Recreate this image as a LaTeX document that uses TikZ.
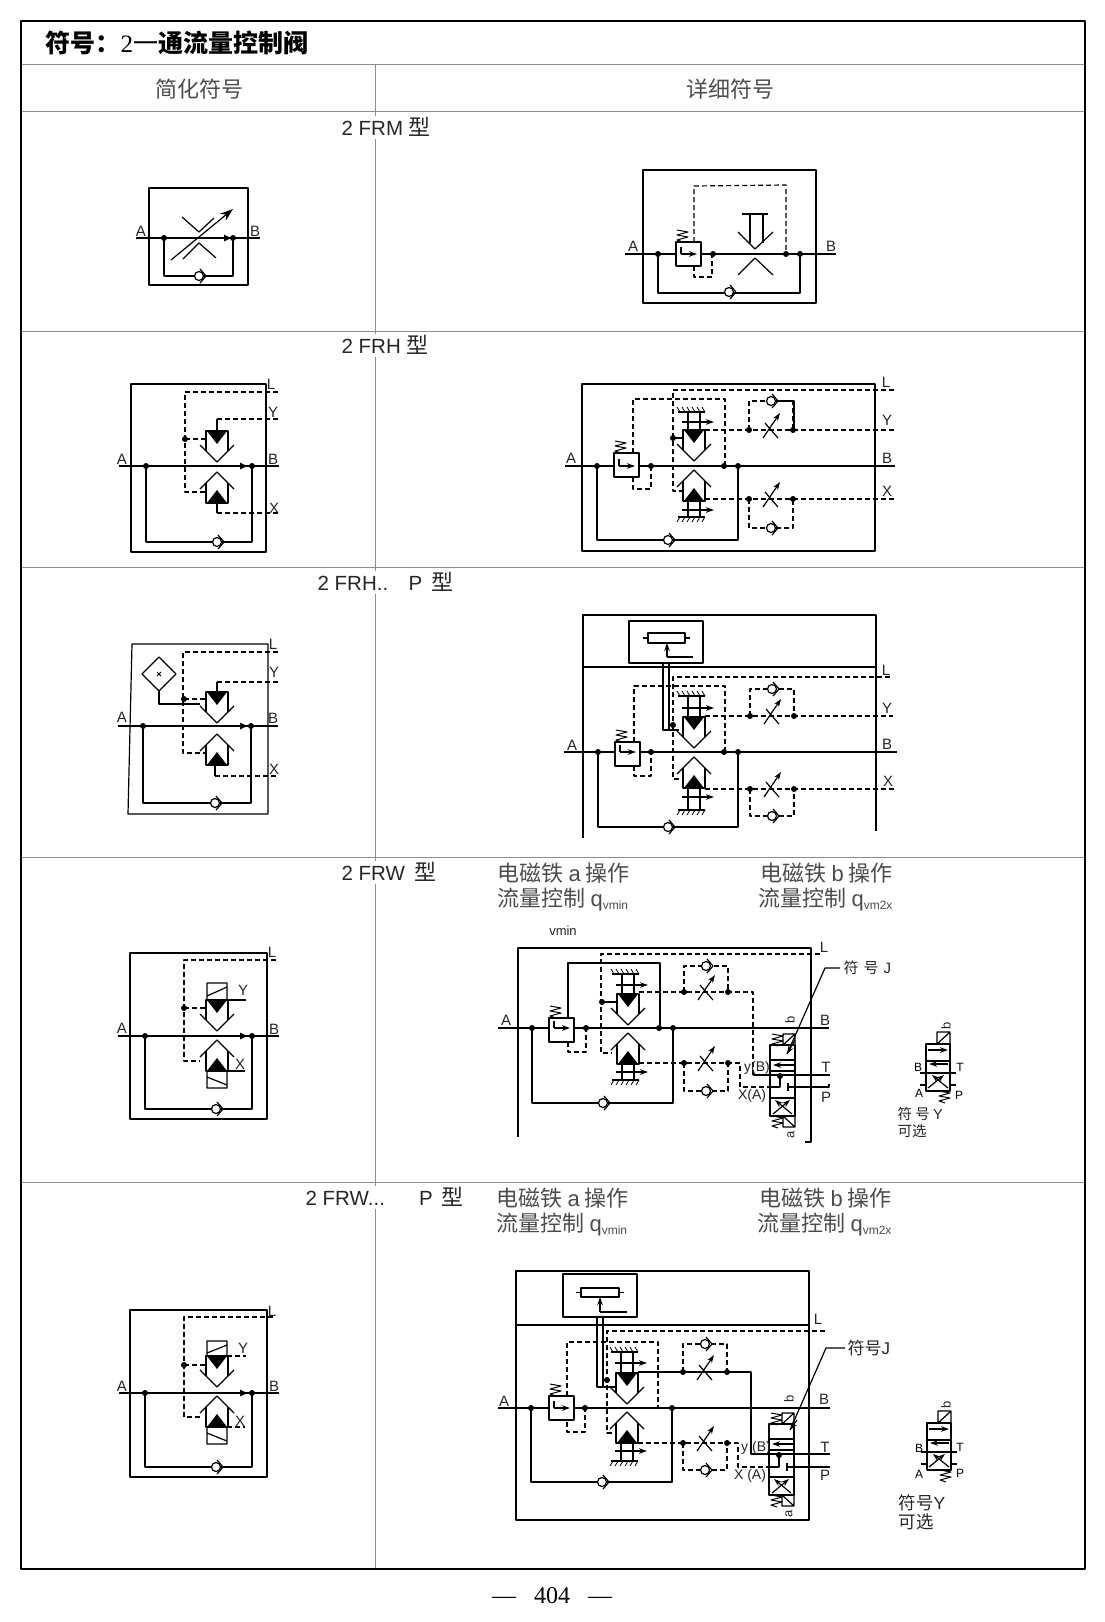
\documentclass[tikz,border=0pt]{standalone}
\usepackage{fontspec}
\setmainfont{Liberation Sans}
\newfontfamily\cjk{Noto Sans CJK SC}
\newfontfamily\ser{Liberation Serif}
\usetikzlibrary{arrows.meta}
\tikzset{
	lab/.style={font=\fontsize{15}{15}\selectfont,inner sep=0pt,text=black!85},
	small lab/.style={font=\fontsize{14}{14}\selectfont,inner sep=0pt,text=black!85},
	tiny lab/.style={font=\fontsize{13}{13}\selectfont,inner sep=0pt,text=black!85},
	rowlab/.style={font=\fontsize{20.5}{20.5}\selectfont,inner sep=1pt,anchor=west,text=black!85},
	cnlab/.style={font=\cjk\fontsize{22}{22}\selectfont,inner sep=0pt,text=black!70},
	note/.style={font=\cjk\fontsize{15}{18}\selectfont,inner sep=0pt,text=black!85,align=left},
	dashline/.style={dash pattern=on 5pt off 3pt},
	grid/.style={line width=1pt,black!45},
}
\newcommand{\xb}[1]{\raisebox{-3pt}{\rmfamily\fontsize{12}{12}\selectfont #1}}
\newcommand{\xing}[1]{{\cjk\fontsize{22}{22}\selectfont #1}}
%one way valve
\newcommand{\ckv}[2]{
	\draw[fill=white] (#1,#2) circle (4.5);
	\draw (#1+1,#2-7)--(#1+7,#2)--(#1+1,#2+7);}
%throttle with arrow
\newcommand{\jl}[2]{
	\draw (#1-6,#2-7)--(#1+7,#2+8);
	\draw[->] (#1-8,#2+8)--(#1+9,#2-17);}
%throttle, dashed loop, one way valve
\newcommand{\jlz}[3]{
	\draw[dashline] (#1-22,#2)--(#1-22,#3)--(#1+22,#3)--(#1+22,#2);
	\fill (#1-22,#2) circle (3) (#1+22,#2) circle (3);
	\jl{#1}{#2}
	\ckv{#1}{#3}}
%valve seat, #3 = 1 upper, -1 lower
\newcommand{\fa}[3]{
	\draw (#1-11,#2+#3*20)--(#1-11,#2)--(#1+11,#2)--(#1+11,#2+#3*20);
	\fill (#1-10,#2)--(#1+10,#2)--(#1,#2+#3*13)--cycle;
	\draw (#1-17,#2+#3*14)--(#1,#2+#3*31)--(#1+17,#2+#3*14);}
%hatched stem of the detailed seats
\newcommand{\zd}[5]{
	\draw (#1-6,#2)--(#1-6,#3) (#1+6,#2)--(#1+6,#3);
	\draw (#1-16,#3)--(#1+11,#3);
	\foreach \i in {0,...,5}{\draw[line width=.8pt] (#1-14+\i*5,#3)--(#1-14+\i*5-3,#3+#5);}
	\draw[->] (#1-12,#4)--(#1+20,#4);}
\newcommand{\tanhuang}[2]{
	\draw[line width=1pt] (#1,#2)--(#1+11,#2+2)--(#1,#2+5)--(#1+11,#2+7)--(#1,#2+10)--(#1+6,#2+12);}
%pressure compensator box
\newcommand{\jy}[3]{
	\draw[fill=white] (#1,#2) rectangle (#1+25,#2+24);
	\draw (#1+5,#3-7)--(#1+5,#3);
	\draw[->] (#1+5,#3)--(#1+21,#3);
	\tanhuang{#1+1}{#2-12}}
\newcommand{\dian}[1]{\foreach \x/\y in {#1}{\fill (\x,\y) circle (3);}}
\newcommand{\sj}[2]{\fill (#1-7,#2-3.5)--(#1,#2)--(#1-7,#2+3.5)--cycle;}
%4/3 valve with two solenoids
\newcommand{\hxf}[2]{
	\draw[fill=white] (#1,#2) rectangle (#1+25,#2+71);
	\draw (#1,#2+15)--(#1+25,#2+15) (#1,#2+26)--(#1+25,#2+26) (#1,#2+53)--(#1+25,#2+53);
	\draw[->] (#1+24,#2+20)--(#1+3,#2+20);
	\draw[->] (#1+3,#2+69)--(#1+20,#2+55);
	\draw[->] (#1+22,#2+69)--(#1+5,#2+55);
	\draw (#1+13,#2)--(#1+13,#2-11)--(#1+25,#2-11)--(#1+25,#2) (#1+13,#2)--(#1+25,#2-11);
	\tanhuang{#1+2}{#2-11}
	\draw (#1+13,#2+71)--(#1+13,#2+82)--(#1+25,#2+82)--(#1+25,#2+71) (#1+13,#2+71)--(#1+25,#2+82);
	\tanhuang{#1+2}{#2+71}}
%optional valve Y
\newcommand{\xf}[2]{
	\draw (#1,#2) rectangle (#1+24,#2+47);
	\draw (#1,#2+17)--(#1+24,#2+17) (#1,#2+29)--(#1+24,#2+29);
	\draw[->] (#1+2,#2+6)--(#1+22,#2+6);
	\draw[->] (#1+22,#2+20)--(#1+3,#2+20);
	\draw[->] (#1+2,#2+44)--(#1+18,#2+31);
	\draw[->] (#1+22,#2+44)--(#1+6,#2+31);
	\draw (#1+11,#2)--(#1+11,#2-12)--(#1+24,#2-12)--(#1+24,#2) (#1+11,#2)--(#1+24,#2-12);
	\draw (#1-6,#2+29)--(#1,#2+29) (#1+24,#2+29)--(#1+30,#2+29);
	\draw (#1-6,#2+41)--(#1,#2+41) (#1+24,#2+41)--(#1+30,#2+41);
	\tanhuang{#1+13}{#2+47}}
\begin{document}
\begin{tikzpicture}[>={Stealth[length=8pt,width=5.5pt]},line join=round,x=1pt,y=-1pt,line width=1.2pt]
	\useasboundingbox (0,0) rectangle (1104,1622);
	\fill[white] (0,0) rectangle (1104,1622);
	%table
	\foreach \y in {64.5,111.5,331,567,857,1182}{\draw[grid] (21,\y)--(1085,\y);}
	\foreach \a/\b in {64.5/116,139/334,357/571,594/861,884/1186,1209/1569}{\draw[grid] (375.5,\a)--(375.5,\b);}
	\draw[line width=1.7pt] (21,21) rectangle (1085,1569);
	\node[font=\fontsize{25}{25}\selectfont,inner sep=0pt,anchor=west] (title) at (45,43) {\cjk\bfseries 符号：{\ser\mdseries 2}{\cjk\mdseries 一}通流量控制阀};
	\node[cnlab] (head1) at (199,89) {简化符号};
	\node[cnlab] (head2) at (730,89) {详细符号};
	\node[rowlab] (row1) at (340,127) {2 FRM \xing{型}};
	\node[rowlab] (row2) at (340,345) {2 FRH \xing{型}};
	\node[rowlab] (row3) at (316,582) {2 FRH..\ \ \ \,P\ \,\xing{型}};
	\node[rowlab] (row4) at (340,872) {2 FRW\ \,\xing{型}};
	\node[rowlab] (row5) at (304,1197) {2 FRW...\ \ \ \ \ \ P\ \,\xing{型}};
	\node[cnlab,anchor=west] (a4) at (497,873) {电磁铁\ {\rmfamily a}\ 操作};
	\node[cnlab,anchor=west] (q4) at (497,900) {流量控制\ {\rmfamily q}\xb{vmin}};
	\node[cnlab,anchor=west] (b4) at (760,873) {电磁铁\ {\rmfamily b}\ 操作};
	\node[cnlab,anchor=west] (p4) at (758,900) {流量控制\ {\rmfamily q}\xb{vm2x}};
	\node[cnlab,anchor=west] (a5) at (496,1198) {电磁铁\ {\rmfamily a}\ 操作};
	\node[cnlab,anchor=west] (q5) at (496,1225) {流量控制\ {\rmfamily q}\xb{vmin}};
	\node[cnlab,anchor=west] (b5) at (759,1198) {电磁铁\ {\rmfamily b}\ 操作};
	\node[cnlab,anchor=west] (p5) at (757,1225) {流量控制\ {\rmfamily q}\xb{vm2x}};
	\node[font=\ser\fontsize{24}{24}\selectfont,inner sep=0pt] (page) at (552,1596) {—\hspace{18pt}404\hspace{18pt}—};
	%2 FRM simple
	\draw (149,188) rectangle (248,285);
	\draw (136,238)--(260,238);
	\draw (164,238)--(164,276)--(233,276)--(233,238);
	\ckv{199}{276}
	\dian{164/238,233/238}
	\sj{231}{238}
	\draw (182,217)--(199,232)--(214,218);
	\draw (183,259)--(199,243)--(216,258);
	\draw[-{Stealth[length=13pt,width=9pt]}] (171,260)--(233,209);
	\foreach \t/\x/\y in {A/141/231,B/255/231}{\node[lab] (\t1a) at (\x,\y) {\t};}
	%2 FRM detail
	\draw (643,170) rectangle (816,303);
	\draw (625,254)--(836,254);
	\draw (658,254)--(658,293)--(800,293)--(800,254);
	\ckv{729}{292}
	\draw[dashline] (694,242)--(694,186)--(786,185)--(786,254);
	\draw[dashline] (694,266)--(694,277)--(712,277)--(712,254);
	\jy{676}{242}{254}
	\dian{658/254,713/254,786/254,800/254}
	\draw (738,232)--(755,249)--(773,232);
	\draw (738,275)--(755,258)--(773,275);
	\draw (742,214)--(768,214) (750,214)--(750,243) (763,214)--(763,243);
	\foreach \t/\x in {A/633,B/831}{\node[lab] (\t1b) at (\x,246) {\t};}
	%2 FRH simple
	\draw (131,384) rectangle (266,552);
	\draw (119,466)--(279,466);
	\draw (146,466)--(146,542)--(252,542)--(252,466);
	\ckv{217}{542}
	\draw[dashline] (278,392)--(185,392)--(185,492)--(205,492);
	\draw[dashline] (185,439)--(207,439);
	\dian{146/466,252/466,185/439}
	\sj{247}{466}
	\fa{217}{431}{1}
	\fa{217}{503}{-1}
	\draw (217,431)--(217,419) (217,503)--(217,513);
	\draw[dashline] (217,419)--(278,419);
	\draw[dashline] (217,513)--(278,513);
	\foreach \t/\x/\y in {A/122/459,B/273/459,L/271/384,Y/273/412,X/274/508}{\node[lab] (\t2a) at (\x,\y) {\t};}
	%2 FRH detail
	\draw (582,384) rectangle (875,551);
	\draw (565,466)--(895,466);
	\draw (597,466)--(597,540)--(738,540)--(738,466);
	\ckv{668}{540}
	\draw[dashline] (894,390)--(673,390)--(673,491)--(683,491);
	\draw[dashline] (633,453)--(633,399)--(725,399)--(725,466);
	\draw[dashline] (633,477)--(633,489)--(651,489)--(651,466);
	\draw (673,438)--(683,438);
	\jy{614}{453}{466}
	\dian{597/466,651/466,724/466,738/466,673/438}
	\fa{694}{430}{1}
	\fa{694}{501}{-1}
	\zd{694}{430}{412}{422}{-5}
	\zd{694}{501}{517}{510}{5}
	\draw[dashline] (705,430)--(894,430);
	\draw[dashline] (705,499)--(896,499);
	\jlz{771}{430}{401}
	\draw (775,401)--(794,401)--(794,430);
	\jlz{771}{499}{528}
	\foreach \t/\x in {A/571,B/887}{\node[lab] (\t2b) at (\x,458) {\t};}
	\foreach \t/\x/\y in {L/886/382,Y/887/420,X/887/491}{\node[lab] (\t2b) at (\x,\y) {\t};}
	%2 FRH..P simple
	\draw (132,644)--(268,644)--(268,814)--(128,814)--cycle;
	\draw (118,726)--(278,726);
	\draw (143,726)--(143,803)--(251,803)--(251,726);
	\ckv{215}{803}
	\draw[dashline] (278,652)--(183,652)--(183,753)--(205,753);
	\draw[dashline] (184,699)--(206,699);
	\dian{143/726,251/726,184/699}
	\sj{247}{726}
	\fa{217}{692}{1}
	\fa{217}{765}{-1}
	\draw (217,692)--(217,682) (215,765)--(215,776);
	\draw[dashline] (217,682)--(279,682);
	\draw[dashline] (215,776)--(277,776);
	\draw[fill=white] (159,657)--(176,674)--(159,691)--(142,674)--cycle;
	\draw[line width=.8pt] (157,672)--(161,676) (161,672)--(157,676);
	\draw (159,691)--(159,704)--(200,704);
	\foreach \t/\x/\y in {A/122/717,B/273/718,L/273/644,Y/274/672,X/274/769}{\node[lab] (\t3a) at (\x,\y) {\t};}
	%2 FRH..P detail
	\draw (583,838)--(583,615)--(876,615)--(876,831);
	\draw (583,667)--(876,667);
	\draw (629,621) rectangle (703,663);
	\draw (648,633) rectangle (685,643);
	\draw (643,638)--(648,638) (685,638)--(690,638);
	\draw[->] (667,657)--(667,643);
	\draw (667,657)--(693,657);
	\draw (663,663)--(663,730)--(679,730) (669,663)--(669,730);
	\draw (564,752)--(897,752);
	\draw (598,752)--(598,827)--(738,827)--(738,752);
	\ckv{668}{827}
	\draw[dashline] (890,677)--(673,677)--(673,779)--(682,779);
	\draw[dashline] (634,742)--(634,686)--(725,686)--(725,752);
	\draw[dashline] (634,766)--(634,776)--(651,776)--(651,752);
	\jy{615}{742}{752}
	\dian{598/752,651/752,724/752,738/752,673/725}
	\fa{694}{717}{1}
	\fa{694}{788}{-1}
	\zd{694}{717}{696}{708}{-5}
	\zd{694}{788}{810}{797}{5}
	\draw[dashline] (705,716)--(893,716);
	\draw[dashline] (705,789)--(896,789);
	\jlz{772}{716}{689}
	\jlz{772}{789}{816}
	\foreach \t/\x/\y in {A/572/745,B/887/744,L/886/670,Y/887/708,X/888/781}{\node[lab] (\t3b) at (\x,\y) {\t};}
	%2 FRW simple
	\draw (130,953) rectangle (267,1119);
	\draw (118,1036)--(279,1036);
	\draw (145,1036)--(145,1109)--(252,1109)--(252,1036);
	\ckv{216}{1109}
	\draw[dashline] (276,960)--(184,960)--(184,1061)--(200,1061);
	\draw[dashline] (184,1008)--(206,1008);
	\dian{145/1036,252/1036,184/1008}
	\sj{247}{1036}
	\fa{217}{1000}{1}
	\fa{217}{1071}{-1}
	\draw (207,1000)--(207,983)--(227,983)--(227,1000) (207,996)--(227,987);
	\draw (207,1071)--(207,1088)--(227,1088)--(227,1071) (207,1077)--(227,1085);
	\draw (227,1000)--(246,1000) (227,1071)--(245,1071);
	\foreach \t/\x/\y in {A/122/1028,B/274/1029,L/272/952,Y/243/990,X/240/1064}{\node[lab] (\t4a) at (\x,\y) {\t};}
	%2 FRW detail
	\draw (518,1137)--(518,948)--(811,948)--(811,1142)--(805,1142);
	\draw (498,1028)--(829,1028);
	\draw (532,1028)--(532,1103)--(673,1103)--(673,1028);
	\ckv{603}{1103}
	\draw[dashline] (820,954)--(601,954)--(601,1053)--(612,1053);
	\draw (568,1018)--(568,963)--(660,963)--(660,1028);
	\draw[dashline] (568,1042)--(568,1052)--(586,1052)--(586,1028);
	\draw (602,1002)--(616,1002);
	\jy{549}{1018}{1028}
	\dian{532/1028,586/1028,659/1028,673/1028,602/1002}
	\fa{628}{994}{1}
	\fa{628}{1064}{-1}
	\zd{628}{994}{974}{985}{-5}
	\zd{628}{1064}{1080}{1072}{5}
	\draw[dashline] (639,992)--(753,992)--(753,1075);
	\draw[dashline] (639,1063)--(740,1063)--(740,1087)--(770,1087);
	\jlz{706}{992}{966}
	\jlz{706}{1063}{1091}
	\hxf{770}{1045}
	\draw (753,1075)--(830,1075);
	\draw (780,1076)--(780,1087)--(770,1087);
	\draw (788,1083)--(788,1091) (788,1087)--(829,1087)--(829,1084);
	\dian{780/1076}
	\draw (840,968)--(825,968)--(787,1054);
	\draw[->] (795,1040)--(787,1054);
	\node[note,anchor=west] (fj4) at (843,968) {符\,\,号\,\,{\rmfamily J}};
	\node[tiny lab] (vmin) at (563,931) {vmin};
	\foreach \t/\x/\y in {A/506/1020,B/825/1020,L/824/947,T/826/1067,P/826/1097}{\node[lab] (\t4b) at (\x,\y) {\t};}
	\node[tiny lab,rotate=90] (b4b) at (790,1020) {b};
	\node[tiny lab,rotate=90] (a4b) at (791,1135) {a};
	\node[small lab] (yb4) at (757,1068) {y(B)};
	\node[small lab] (xa4) at (752,1096) {X(A)};
	%optional valve Y
	\xf{926}{1044}
	\node[tiny lab,rotate=90] (by4) at (946,1026) {b};
	\foreach \t/\x/\y in {B/918/1067,T/960/1067,A/919/1093,P/959/1095}{\node[font=\fontsize{12}{12}\selectfont,inner sep=0pt] (\t4c) at (\x,\y) {\t};}
	\node[note,anchor=north west,font=\cjk\fontsize{14.5}{17}\selectfont] (fy4) at (897,1107) {符 号 {\rmfamily Y}\\可选};
	%2 FRW..P simple
	\draw (130,1310) rectangle (267,1477);
	\draw (119,1393)--(279,1393);
	\draw (145,1393)--(145,1467)--(252,1467)--(252,1393);
	\ckv{216}{1467}
	\draw[dashline] (273,1317)--(184,1317)--(184,1417)--(200,1417);
	\draw[dashline] (184,1365)--(206,1365);
	\dian{145/1393,252/1393,184/1365}
	\sj{247}{1393}
	\fa{217}{1356}{1}
	\fa{217}{1427}{-1}
	\draw (207,1356)--(207,1341)--(227,1341)--(227,1356) (207,1353)--(227,1345);
	\draw (207,1427)--(207,1444)--(227,1444)--(227,1427) (207,1433)--(227,1441);
	\draw[dashline] (227,1356)--(246,1356);
	\draw[dashline] (227,1427)--(245,1427);
	\foreach \t/\x/\y in {A/122/1386,B/274/1386,L/272/1311,Y/243/1348,X/240/1421}{\node[lab] (\t5a) at (\x,\y) {\t};}
	%2 FRW..P detail
	\draw (516,1271) rectangle (809,1520);
	\draw (516,1325)--(809,1325);
	\draw (563,1274) rectangle (637,1317);
	\draw (581,1288) rectangle (619,1297);
	\draw (576,1292.5)--(581,1292.5) (619,1292.5)--(624,1292.5);
	\draw[->] (600,1312)--(600,1297);
	\draw (600,1312)--(627,1312);
	\draw (597,1317)--(597,1387)--(617,1387) (603,1317)--(603,1387);
	\draw (498,1408)--(830,1408);
	\draw (531,1408)--(531,1482)--(672,1482)--(672,1408);
	\ckv{602}{1482}
	\draw[dashline] (825,1331)--(607,1331)--(607,1433)--(613,1433);
	\draw[dashline] (567,1396)--(567,1342)--(658,1342)--(658,1408);
	\draw[dashline] (567,1422)--(567,1432)--(585,1432)--(585,1408);
	\jy{549}{1396}{1408}
	\dian{531/1408,585/1408,672/1408,607/1380}
	\fa{627}{1373}{1}
	\fa{627}{1443}{-1}
	\zd{627}{1373}{1352}{1363}{-5}
	\zd{627}{1443}{1461}{1451}{5}
	\draw (638,1372)--(751,1372)--(751,1454)--(830,1454);
	\draw[dashline] (638,1443)--(738,1443)--(738,1467)--(770,1467);
	\jlz{705}{1372}{1344}
	\jlz{705}{1443}{1470}
	\hxf{769}{1424}
	\draw (751,1454)--(830,1454);
	\draw (779,1455)--(779,1467)--(769,1467);
	\draw (787,1463)--(787,1471) (787,1467)--(830,1467);
	\dian{779/1455}
	\draw (845,1348)--(826,1348)--(790,1430);
	\draw[->] (797,1420)--(790,1430);
	\node[note,anchor=west,font=\cjk\fontsize{17}{17}\selectfont] (fj5) at (847,1348) {符号{\rmfamily J}};
	\foreach \t/\x/\y in {A/504/1401,B/824/1399,L/818/1319,T/825/1447,P/825/1475}{\node[lab] (\t5b) at (\x,\y) {\t};}
	\node[tiny lab,rotate=90] (b5b) at (789,1399) {b};
	\node[tiny lab,rotate=90] (a5b) at (789,1514) {a};
	\node[small lab] (yb5) at (756,1448) {y (B)};
	\node[small lab] (xa5) at (750,1476) {X (A)};
	%optional valve Y
	\xf{927}{1423}
	\node[tiny lab,rotate=90] (by5) at (946,1405) {b};
	\foreach \t/\x/\y in {B/919/1448,T/960/1447,A/919/1474,P/960/1473}{\node[font=\fontsize{12}{12}\selectfont,inner sep=0pt] (\t5c) at (\x,\y) {\t};}
	\node[note,anchor=north west,font=\cjk\fontsize{17.5}{19}\selectfont] (fy5) at (898,1494) {符号{\rmfamily Y}\\可选};
\end{tikzpicture}
\end{document}
